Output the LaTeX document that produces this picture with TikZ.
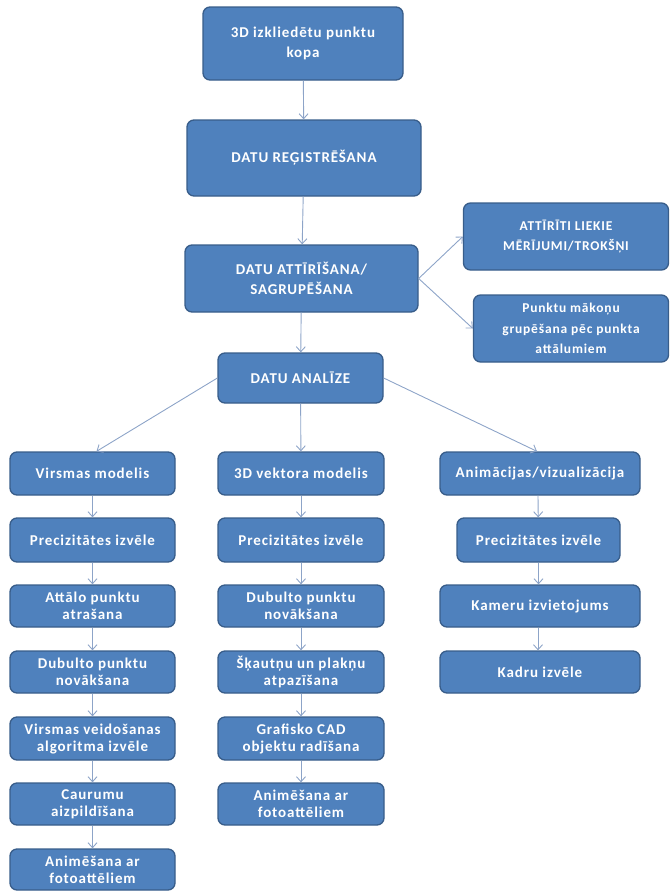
\documentclass[tikz,border=0pt]{standalone}
\usepackage{fontspec}
\setmainfont{Carlito}[LetterSpace=6]
\usetikzlibrary{arrows.meta}
\definecolor{boxfill}{HTML}{4F81BD}
\definecolor{boxline}{HTML}{385D8A}
\definecolor{arrowc}{HTML}{8DA4C8}
\begin{document}
\begin{tikzpicture}[x=1pt,y=-1pt,
  box/.style={draw=boxline, fill=boxfill, line width=1.3pt, rounded corners=7pt, text=white, align=center, inner sep=0pt},
  up/.style={font=\fontsize{15}{20.5}\selectfont\bfseries},
  side/.style={font=\fontsize{13.5}{20.5}\selectfont\bfseries},
  lo/.style={font=\fontsize{15}{17}\selectfont\bfseries},
  arr/.style={draw=arrowc, line width=0.9pt, -{Straight Barb[length=5pt,width=9pt]}},
  colL/.style={minimum width=165pt},
  colM/.style={minimum width=166pt},
  colR/.style={minimum width=200pt}
]
\useasboundingbox (0,0) rectangle (671,892);
% top chain
\node[box,up,minimum width=200pt,minimum height=73pt] (b1) at (303,43.5) {3D izkliedētu punktu\\kopa};
\node[box,up,minimum width=234pt,minimum height=76pt] (b2) at (304,158) {DATU REĢISTRĒŠANA};
\node[box,up,minimum width=233pt,minimum height=67pt] (b3) at (301.5,278.5) {DATU ATTĪRĪŠANA/\\SAGRUPĒŠANA};
\node[box,side,minimum width=205pt,minimum height=67pt] (s1) at (566,236.5) {ATTĪRĪTI LIEKIE\\MĒRĪJUMI/TROKŠŅI};
\node[box,side,minimum width=195pt,minimum height=67pt] (s2) at (571,328.5) {Punktu mākoņu\\grupēšana pēc punkta\\attālumiem};
\node[box,up,minimum width=165pt,minimum height=50pt] (an) at (300.5,378) {DATU ANALĪZE};
% left column
\node[box,lo,colL,minimum height=43pt] (l1) at (92.5,473.5) {Virsmas modelis};
\node[box,lo,colL,minimum height=44pt] (l2) at (92.5,540) {Precizitātes izvēle};
\node[box,lo,colL,minimum height=42pt] (l3) at (92.5,606) {Attālo punktu\\atrašana};
\node[box,lo,colL,minimum height=42pt] (l4) at (92.5,672) {Dubulto punktu\\novākšana};
\node[box,lo,colL,minimum height=43pt] (l5) at (92.5,738.5) {Virsmas veidošanas\\algoritma izvēle};
\node[box,lo,colL,minimum height=42pt] (l6) at (92.5,804) {Caurumu\\aizpildīšana};
\node[box,lo,colL,minimum height=41pt] (l7) at (92.5,869.5) {Animēšana ar\\fotoattēliem};
% middle column
\node[box,lo,colM,minimum height=43pt] (m1) at (301,473.5) {3D vektora modelis};
\node[box,lo,colM,minimum height=44pt] (m2) at (301,540) {Precizitātes izvēle};
\node[box,lo,colM,minimum height=42pt] (m3) at (301,606) {Dubulto punktu\\novākšana};
\node[box,lo,colM,minimum height=42pt] (m4) at (301,672) {Šķautņu un plakņu\\atpazīšana};
\node[box,lo,colM,minimum height=43pt] (m5) at (301,738.5) {Grafisko CAD\\objektu radīšana};
\node[box,lo,colM,minimum height=42pt] (m6) at (301,804) {Animēšana ar\\fotoattēliem};
% right column
\node[box,lo,colR,minimum height=43pt] (r1) at (540,473.5) {Animācijas/vizualizācija};
\node[box,lo,minimum width=163pt,minimum height=44pt] (r2) at (538.5,540) {Precizitātes izvēle};
\node[box,lo,colR,minimum height=42pt] (r3) at (540,606) {Kameru izvietojums};
\node[box,lo,colR,minimum height=42pt] (r4) at (540,672) {Kadru izvēle};
% connectors
\draw[arr] (b1) -- (b2);
\draw[arr] (b2) -- (b3);
\draw[arr] (b3.east) -- (s1.west);
\draw[arr] (b3.east) -- (s2.west);
\draw[arr] (b3) -- (an);
\draw[arr] (an.west) -- ([xshift=4pt]l1.north);
\draw[arr] (an) -- (m1);
\draw[arr] (an.east) -- ([xshift=-3pt]r1.north);
\draw[arr] (l1) -- (l2);
\draw[arr] (l2) -- (l3);
\draw[arr] (l3) -- (l4);
\draw[arr] (l4) -- (l5);
\draw[arr] (l5) -- (l6);
\draw[arr] (l6) -- (l7);
\draw[arr] (m1) -- (m2);
\draw[arr] (m2) -- (m3);
\draw[arr] (m3) -- (m4);
\draw[arr] (m4) -- (m5);
\draw[arr] (m5) -- (m6);
\draw[arr] ([xshift=-2pt]r1.south) -- (r2);
\draw[arr] (r2) -- ([xshift=-1.5pt]r3.north);
\draw[arr] ([xshift=-2pt]r3.south) -- ([xshift=-2pt]r4.north);
\end{tikzpicture}
\end{document}
